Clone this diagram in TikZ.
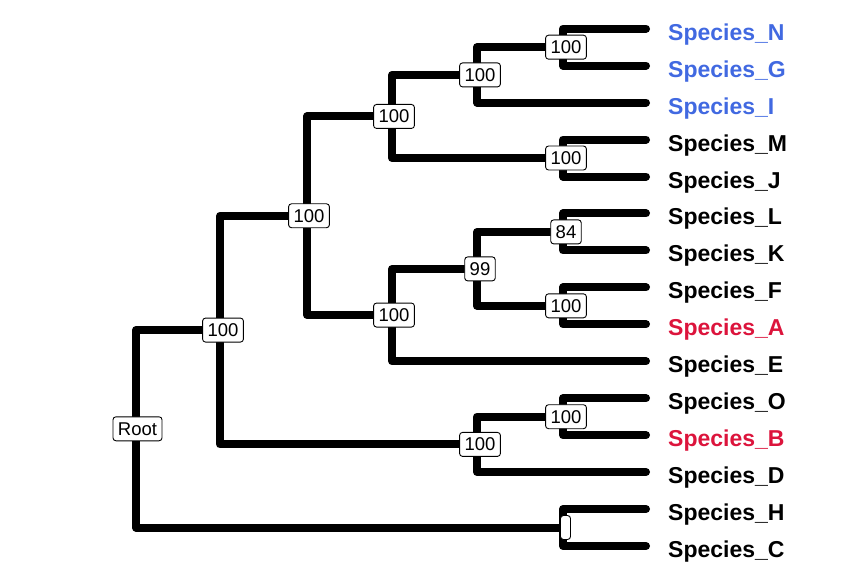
\documentclass[tikz,border=0pt]{standalone}
\usepackage{fontspec}
\setmainfont{Liberation Sans}
\definecolor{tipblue}{RGB}{65,105,225}
\definecolor{tipred}{RGB}{220,20,60}
\begin{document}
\begin{tikzpicture}[x=1pt,y=-1pt,
  branch/.style={line width=8pt, line cap=round, line join=round},
  boot/.style={draw, line width=0.9pt, fill=white, rounded corners=3pt,
    inner xsep=5pt, inner ysep=5.5pt, text height=13pt, text depth=0pt,
    font=\fontsize{18.5}{20}\selectfont},
  tiplab/.style={anchor=base west, inner sep=0pt, font=\fontsize{23}{26}\selectfont\bfseries}]
\useasboundingbox (0,0) rectangle (866,580);
% tips
\coordinate (tN) at (646,28.7);
\coordinate (tG) at (646,65.65);
\coordinate (tI) at (646,102.6);
\coordinate (tM) at (646,139.55);
\coordinate (tJ) at (646,176.5);
\coordinate (tL) at (646,213.45);
\coordinate (tK) at (646,250.4);
\coordinate (tF) at (646,287.35);
\coordinate (tA) at (646,324.3);
\coordinate (tE) at (646,361.25);
\coordinate (tO) at (646,398.2);
\coordinate (tB) at (646,435.15);
\coordinate (tD) at (646,472.1);
\coordinate (tH) at (646,509.05);
\coordinate (tC) at (646,546.0);
% internal nodes
\coordinate (nNG) at (563,47.2);
\coordinate (nNGI) at (477,74.9);
\coordinate (nMJ) at (563,158.0);
\coordinate (nTop) at (392,116.45);
\coordinate (nLK) at (563,231.9);
\coordinate (nFA) at (563,305.8);
\coordinate (n99) at (477,268.9);
\coordinate (n99E) at (392,315.07);
\coordinate (nMid) at (307,215.76);
\coordinate (nOB) at (563,416.7);
\coordinate (nOBD) at (477,444.4);
\coordinate (nA) at (220,330.08);
\coordinate (nHC) at (563,527.5);
\coordinate (root) at (136,428.8);
% branches
\draw[branch] (nNG) |- (tN);
\draw[branch] (nNG) |- (tG);
\draw[branch] (nNGI) |- (nNG);
\draw[branch] (nNGI) |- (tI);
\draw[branch] (nMJ) |- (tM);
\draw[branch] (nMJ) |- (tJ);
\draw[branch] (nTop) |- (nNGI);
\draw[branch] (nTop) |- (nMJ);
\draw[branch] (nLK) |- (tL);
\draw[branch] (nLK) |- (tK);
\draw[branch] (nFA) |- (tF);
\draw[branch] (nFA) |- (tA);
\draw[branch] (n99) |- (nLK);
\draw[branch] (n99) |- (nFA);
\draw[branch] (n99E) |- (n99);
\draw[branch] (n99E) |- (tE);
\draw[branch] (nMid) |- (nTop);
\draw[branch] (nMid) |- (n99E);
\draw[branch] (nOB) |- (tO);
\draw[branch] (nOB) |- (tB);
\draw[branch] (nOBD) |- (nOB);
\draw[branch] (nOBD) |- (tD);
\draw[branch] (nA) |- (nMid);
\draw[branch] (nA) |- (nOBD);
\draw[branch] (nHC) |- (tH);
\draw[branch] (nHC) |- (tC);
\draw[branch] (root) |- (nA);
\draw[branch] (root) |- (nHC);
% support labels
\node[boot] (bNG) at ([xshift=3pt]nNG) {100};
\node[boot] (bNGI) at ([xshift=3pt]nNGI) {100};
\node[boot] (bMJ) at ([xshift=3pt]nMJ) {100};
\node[boot] (bTop) at ([xshift=2pt]nTop) {100};
\node[boot] (bLK) at ([xshift=3pt]nLK) {84};
\node[boot] (bFA) at ([xshift=3pt]nFA) {100};
\node[boot] (b99) at ([xshift=3pt]n99) {99};
\node[boot] (b99E) at ([xshift=2pt]n99E) {100};
\node[boot] (bMid) at ([xshift=2pt]nMid) {100};
\node[boot] (bOB) at ([xshift=3pt]nOB) {100};
\node[boot] (bOBD) at ([xshift=3pt]nOBD) {100};
\node[boot] (bA) at ([xshift=3pt]nA) {100};
\node[boot] (bHC) at ([xshift=2.5pt]nHC) {};
\node[boot] (bRoot) at ([xshift=1.5pt]root) {Root};
% tip labels
\node[tiplab, text=tipblue] (lN) at ([xshift=22pt,yshift=-11.5pt]tN) {Species\_N};
\node[tiplab, text=tipblue] (lG) at ([xshift=22pt,yshift=-11.5pt]tG) {Species\_G};
\node[tiplab, text=tipblue] (lI) at ([xshift=22pt,yshift=-11.5pt]tI) {Species\_I};
\node[tiplab] (lM) at ([xshift=22pt,yshift=-11.5pt]tM) {Species\_M};
\node[tiplab] (lJ) at ([xshift=22pt,yshift=-11.5pt]tJ) {Species\_J};
\node[tiplab] (lL) at ([xshift=22pt,yshift=-11.5pt]tL) {Species\_L};
\node[tiplab] (lK) at ([xshift=22pt,yshift=-11.5pt]tK) {Species\_K};
\node[tiplab] (lF) at ([xshift=22pt,yshift=-11.5pt]tF) {Species\_F};
\node[tiplab, text=tipred] (lA) at ([xshift=22pt,yshift=-11.5pt]tA) {Species\_A};
\node[tiplab] (lE) at ([xshift=22pt,yshift=-11.5pt]tE) {Species\_E};
\node[tiplab] (lO) at ([xshift=22pt,yshift=-11.5pt]tO) {Species\_O};
\node[tiplab, text=tipred] (lB) at ([xshift=22pt,yshift=-11.5pt]tB) {Species\_B};
\node[tiplab] (lD) at ([xshift=22pt,yshift=-11.5pt]tD) {Species\_D};
\node[tiplab] (lH) at ([xshift=22pt,yshift=-11.5pt]tH) {Species\_H};
\node[tiplab] (lC) at ([xshift=22pt,yshift=-11.5pt]tC) {Species\_C};
\end{tikzpicture}
\end{document}
